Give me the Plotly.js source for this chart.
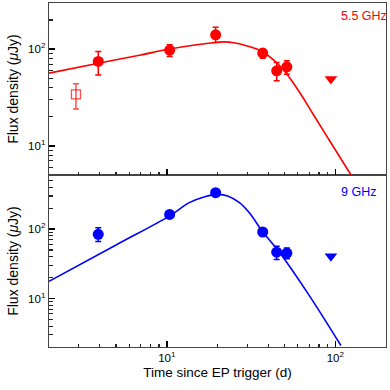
<!DOCTYPE html>
<html><head><meta charset="utf-8">
<script src="https://cdn.plot.ly/plotly-3.0.1.min.js"></script>
<style>html,body{margin:0;padding:0;background:#fff}#chart{width:390px;height:390px}</style>
</head><body><div id="chart"></div>
<script>
// 5.5 GHz detections
const t55 = [3.92, 10.4, 19.5, 37.1, 44.9, 51.6];
const f55 = [74.6, 97.6, 140.6, 91, 59.7, 65.6];
const f55Hi = [94.6, 111, 168, 100, 72.8, 75.7];
const f55Lo = [54, 84, 117, 80.7, 47, 55];
// 5.5 GHz open square (excluded point)
const t55open = [2.89];
const f55open = [34];
const f55openHi = [44];
const f55openLo = [24];
// 5.5 GHz upper limit
const t55ul = [94.2];
const f55ul = [49];
// 5.5 GHz model curve
const t55mod = [2, 4, 7, 10, 15, 20, 22, 25, 30, 37, 45, 50, 55, 64, 73, 92, 124];
const f55mod = [56.5, 72, 87, 99, 111, 118, 119, 116.5, 108, 94, 72, 59, 47.5, 32, 22, 11.5, 5.0];

// 9 GHz detections
const t9 = [3.92, 10.4, 19.5, 37.1, 44.9, 51.6];
const f9 = [84, 162, 334, 90.6, 46.4, 45];
const f9Hi = [104, 162, 334, 90.6, 56.6, 53.5];
const f9Lo = [66, 162, 334, 90.6, 36.4, 37.3];
// 9 GHz upper limit
const t9ul = [94.2];
const f9ul = [40.7];
// 9 GHz model curve
const t9mod = [2, 5, 10.4, 13.6, 17, 20, 23, 27, 31, 37, 46.6, 70, 108];
const f9mod = [17.6, 59, 155, 240, 295, 316, 300, 240, 170, 92, 46.4, 11.1, 2.1];

// axis ticks
const majorTicks = [1, 10, 100, 1000];
const majorText = ["10<sup>0</sup>", "10<sup>1</sup>", "10<sup>2</sup>", "10<sup>3</sup>"];
const minorTicks = [2,3,4,5,6,7,8,9,20,30,40,50,60,70,80,90,200,300,400,500,600,700,800,900];

// labels
const band55 = "5.5 GHz";
const band9 = "9 GHz";
const xTitle = "Time since EP trigger (d)";
const yTitle = "Flux density (<i>μ</i>Jy)";

const RED = "#ff0000", BLUE = "#0000ff", RED_LIGHT = "rgba(255,0,0,0.7)";
const errArr = (v, hi, lo) => ({type:'data', symmetric:false,
  array: hi.map((h,i)=>h-v[i]), arrayminus: lo.map((l,i)=>v[i]-l),
  thickness:1.5, width:3});

const traces = [
  {x:t55mod, y:f55mod, mode:'lines', line:{color:RED, width:1.6, shape:'spline', smoothing:1}, xaxis:'x2', yaxis:'y2', hoverinfo:'skip'},
  {x:t55, y:f55, mode:'markers', marker:{color:RED, size:11, symbol:'circle'}, error_y:Object.assign(errArr(f55,f55Hi,f55Lo),{color:RED}), xaxis:'x2', yaxis:'y2'},
  {x:t55open, y:f55open, mode:'markers', marker:{color:RED_LIGHT, size:9, symbol:'square-open', line:{width:1.3}}, error_y:Object.assign(errArr(f55open,f55openHi,f55openLo),{color:RED_LIGHT}), xaxis:'x2', yaxis:'y2'},
  {x:t55ul, y:f55ul, mode:'markers', marker:{color:RED, size:11, symbol:'triangle-down'}, xaxis:'x2', yaxis:'y2'},
  {x:t9mod, y:f9mod, mode:'lines', line:{color:BLUE, width:1.6, shape:'spline', smoothing:1}, xaxis:'x', yaxis:'y', hoverinfo:'skip'},
  {x:t9, y:f9, mode:'markers', marker:{color:BLUE, size:11, symbol:'circle'}, error_y:Object.assign(errArr(f9,f9Hi,f9Lo),{color:BLUE}), xaxis:'x', yaxis:'y'},
  {x:t9ul, y:f9ul, mode:'markers', marker:{color:BLUE, size:11, symbol:'triangle-down'}, xaxis:'x', yaxis:'y'},
  // empty traces registering the minor-tick overlay axes
  {x:[], y:[], mode:'markers', xaxis:'x3', yaxis:'y3', hoverinfo:'skip'},
  {x:[], y:[], mode:'markers', xaxis:'x4', yaxis:'y4', hoverinfo:'skip'}
];

const FONT = "Liberation Sans, Arial, sans-serif";
const XR = [Math.log10(2), Math.log10(200)];
const YR1 = [Math.log10(2), Math.log10(600)];
const YR2 = [Math.log10(5), Math.log10(300)];
const axCommon = {type:'log', showgrid:false, zeroline:false, ticks:'inside', ticklen:6, tickwidth:1.5, tickcolor:'#000',
  showline:true, linecolor:'#444', linewidth:1.3, mirror:true,
  tickmode:'array', tickvals:majorTicks, ticktext:majorText,
  tickfont:{family:FONT, size:11.5, color:'#000'}};
const minorAx = {type:'log', showgrid:false, zeroline:false, showline:false, showticklabels:false,
  tickmode:'array', tickvals:minorTicks, ticks:'inside', ticklen:3.5, tickwidth:1.2, tickcolor:'#222'};

const layout = {
  width:390, height:390, showlegend:false,
  paper_bgcolor:'#fff', plot_bgcolor:'#fff',
  margin:{l:49, r:4, t:3, b:43},
  font:{family:FONT, color:'#000'},
  xaxis:Object.assign({}, axCommon, {anchor:'y', range:XR,
    title:{text:xTitle, font:{family:FONT, size:13.5, color:'#000'}, standoff:4}}),
  xaxis2:Object.assign({}, axCommon, {anchor:'y2', showticklabels:false, range:XR}),
  yaxis:Object.assign({}, axCommon, {domain:[0,0.5], anchor:'x', range:YR1,
    title:{text:yTitle, font:{family:FONT, size:14, color:'#000'}, standoff:6}}),
  yaxis2:Object.assign({}, axCommon, {domain:[0.5,1], anchor:'x2', range:YR2,
    title:{text:yTitle, font:{family:FONT, size:14, color:'#000'}, standoff:6}}),
  xaxis3:Object.assign({}, minorAx, {overlaying:'x', anchor:'y', side:'bottom', range:XR}),
  yaxis3:Object.assign({}, minorAx, {overlaying:'y', anchor:'x', side:'left', range:YR1}),
  xaxis4:Object.assign({}, minorAx, {overlaying:'x2', anchor:'y2', side:'bottom', range:XR}),
  yaxis4:Object.assign({}, minorAx, {overlaying:'y2', anchor:'x2', side:'left', range:YR2}),
  annotations:[
    {text:band55, xref:'paper', yref:'paper', x:0.8605, y:0.962, xanchor:'left', yanchor:'middle', showarrow:false, font:{family:FONT, size:12.5, color:RED}},
    {text:band9, xref:'paper', yref:'paper', x:0.8605, y:0.451, xanchor:'left', yanchor:'middle', showarrow:false, font:{family:FONT, size:12.5, color:BLUE}}
  ]
};
Plotly.newPlot('chart', traces, layout, {displayModeBar:false, staticPlot:true});
</script></body></html>
